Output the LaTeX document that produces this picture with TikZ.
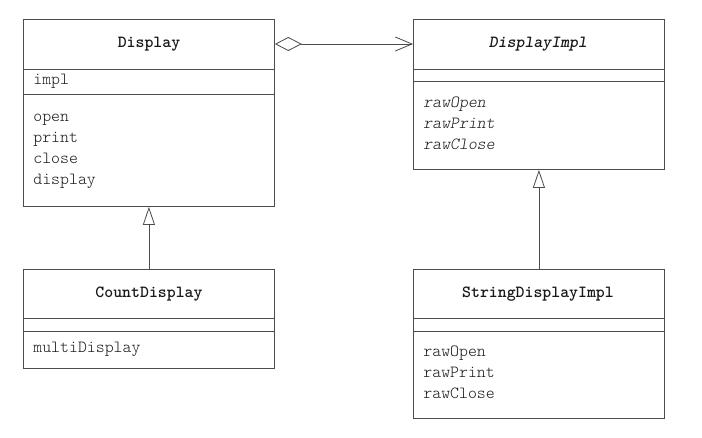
\documentclass[tikz,border=0pt]{standalone}
\usepackage{fontspec}
\setmonofont{Latin Modern Mono Light}
\usetikzlibrary{arrows.meta}

\begin{document}
\begin{tikzpicture}[x=0.03cm,y=-0.03cm,
  line width=0.7pt,color=black!70,
  class node/.style={draw,rectangle,anchor=north west,inner sep=0pt,minimum width=7.53cm},
  name node/.style={font=\ttfamily\bfseries\fontsize{14.5}{16}\selectfont,text=black!90},
  member node/.style={anchor=west,inner sep=0pt,text height=0.7em,text depth=0.2em,
    font=\ttfamily\fontsize{14.5}{16}\selectfont,text=black!90}]

  \useasboundingbox (0,0) rectangle (702,437);

  \node[class node,minimum height=5.61cm] (display) at (23,19) {};
  \node[class node,minimum height=2.97cm] (count) at (23,269) {};
  \node[class node,minimum height=4.5cm] (impl) at (413,19) {};
  \node[class node,minimum height=4.47cm] (stringimpl) at (413,269) {};

  \node[name node] (display title) at (149,44) {Display};
  \node[name node] (count title) at (149,294) {CountDisplay};
  \node[name node,font=\ttfamily\bfseries\itshape\fontsize{14.5}{16}\selectfont] (impl title) at (538,44) {DisplayImpl};
  \node[name node] (stringimpl title) at (538,294) {StringDisplayImpl};

  % compartments
  \foreach \y in {69,94} \draw (display.west |- 0,\y) -- (display.east |- 0,\y);
  \foreach \y in {69,81} \draw (impl.west |- 0,\y) -- (impl.east |- 0,\y);
  \foreach \y in {318,331} {
    \draw (count.west |- 0,\y) -- (count.east |- 0,\y);
    \draw (stringimpl.west |- 0,\y) -- (stringimpl.east |- 0,\y);
  }

  \node[member node] (d1) at (33,82) {impl};
  \node[member node] (d2) at (33,119) {open};
  \node[member node] (d3) at (33,140) {print};
  \node[member node] (d4) at (33,161) {close};
  \node[member node] (d5) at (33,182) {display};

  \node[member node] (c1) at (33,350) {multiDisplay};

  \node[member node,font=\ttfamily\itshape\fontsize{14.5}{16}\selectfont] (i1) at (423,105) {rawOpen};
  \node[member node,font=\ttfamily\itshape\fontsize{14.5}{16}\selectfont] (i2) at (423,126) {rawPrint};
  \node[member node,font=\ttfamily\itshape\fontsize{14.5}{16}\selectfont] (i3) at (423,147) {rawClose};

  \node[member node] (s1) at (423,354) {rawOpen};
  \node[member node] (s2) at (423,375) {rawPrint};
  \node[member node] (s3) at (423,396) {rawClose};

  \draw[{Diamond[open,length=0.81cm,width=0.42cm]}-{Straight Barb[length=0.5cm,width=0.42cm]}]
    (display title -| display.east) -- (impl title -| impl.west);
  \draw[-{Triangle[open,length=0.54cm,width=0.36cm]}] (count.north) -- (display.south);
  \draw[-{Triangle[open,length=0.54cm,width=0.36cm]}] (stringimpl.north) -- (impl.south);
\end{tikzpicture}
\end{document}
